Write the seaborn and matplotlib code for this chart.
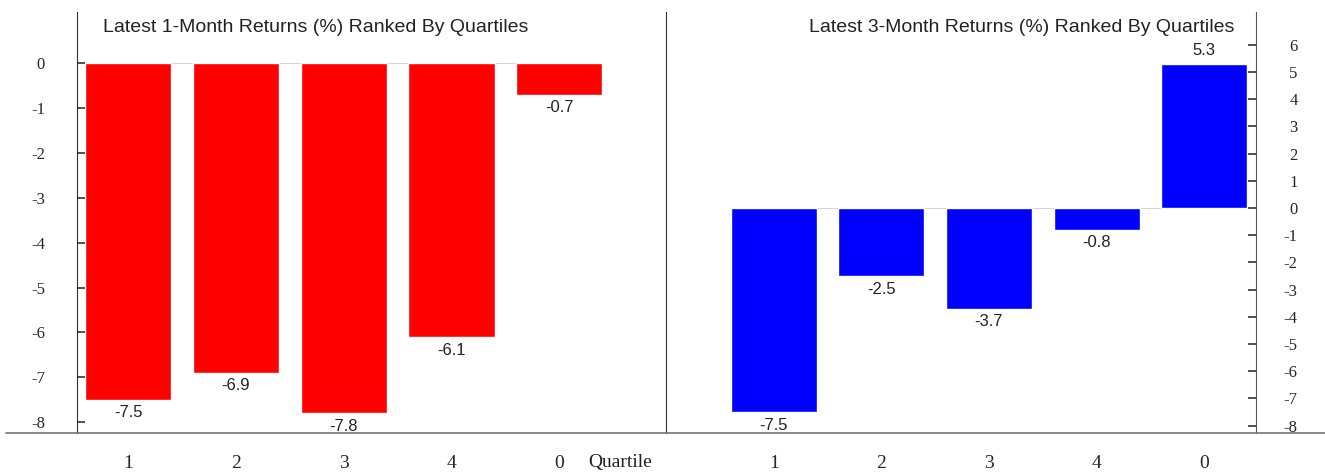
import matplotlib.pyplot as plt
import seaborn as sns
from matplotlib.lines import Line2D

quartiles = ['1', '2', '3', '4', '0']
ret_1m = [-7.5, -6.9, -7.8, -6.1, -0.7]
ret_3m = [-7.5, -2.5, -3.7, -0.8, 5.3]
title_1m = 'Latest 1-Month Returns (%) Ranked By Quartiles'
title_3m = 'Latest 3-Month Returns (%) Ranked By Quartiles'

sns.set_style('white')
plt.rcParams['font.family'] = ['Liberation Sans', 'DejaVu Sans']
serif = 'Liberation Serif'

fig = plt.figure(figsize=(13.25, 4.72), dpi=100)
ax1 = fig.add_axes([77 / 1325, 1 - 433 / 472, 589 / 1325, 421 / 472])
ax2 = fig.add_axes([666 / 1325, 1 - 433 / 472, 590 / 1325, 421 / 472])

sns.barplot(x=quartiles, y=ret_1m, order=quartiles, color='#ff0000',
            saturation=1, width=0.8, ax=ax1)
sns.barplot(x=quartiles, y=ret_3m, order=quartiles, color='#0000ff',
            saturation=1, width=0.8, ax=ax2)

ax1.set_xlim(-0.475, 4.99)
ax1.set_ylim(-8.24, 1.14)
ax2.set_xlim(-1.0, 4.48)
ax2.set_ylim(-8.27, 7.2)

for ax in (ax1, ax2):
    ax.set_axisbelow(False)
    # faint baseline joining the bars
    ax.hlines(0, -0.4, 4.4, color='#cccccc', lw=0.6, zorder=0)
    ax.bar_label(ax.containers[0], fmt='%.1f', padding=4, fontsize=12,
                 color='#222222')
    ax.spines['top'].set_visible(False)
    ax.spines['bottom'].set_visible(False)
    ax.tick_params(axis='x', length=0, pad=16, labelsize=14)
    ax.set_xlabel('')
    ax.set_ylabel('')
    for lab in ax.get_xticklabels():
        lab.set_fontfamily(serif)
    ax.set_facecolor('none')

ax1.set_yticks(range(-8, 1))
ax1.set_yticklabels([str(v) for v in range(-8, 1)], fontfamily=serif)
ax1.tick_params(axis='y', left=True, direction='in', length=6, width=1.1,
                pad=23, labelsize=12, color='#222222')
ax1.spines['left'].set_color('#333333')
ax1.spines['right'].set_color('#333333')
ax1.spines['right'].set_visible(True)

ax2.set_yticks(range(-8, 7))
ax2.yaxis.tick_right()
ax2.set_yticklabels([str(v) for v in range(-8, 7)], fontfamily=serif,
                    ha='right')
ax2.tick_params(axis='y', right=True, left=False, direction='in', length=5.5,
                width=1.1, pad=30, labelsize=12, color='#222222')
ax2.spines['left'].set_visible(False)
ax2.spines['right'].set_color('#555555')

ax1.text(0.044, 0.964, title_1m, transform=ax1.transAxes, ha='left',
         va='center', fontsize=14, color='#222222')
ax2.text(0.963, 0.964, title_3m, transform=ax2.transAxes, ha='right',
         va='center', fontsize=14, color='#222222')

# shared baseline along the bottom
fig.add_artist(Line2D([6 / 1325, 1.0], [1 - 433 / 472, 1 - 433 / 472],
                      color='#777777', lw=1.2, transform=fig.transFigure))
fig.text(620 / 1325, 1 - 462 / 472, 'Quartile', ha='center', va='center',
         fontsize=14, fontfamily=serif, color='#222222')

fig.savefig('out.png', dpi=100)
